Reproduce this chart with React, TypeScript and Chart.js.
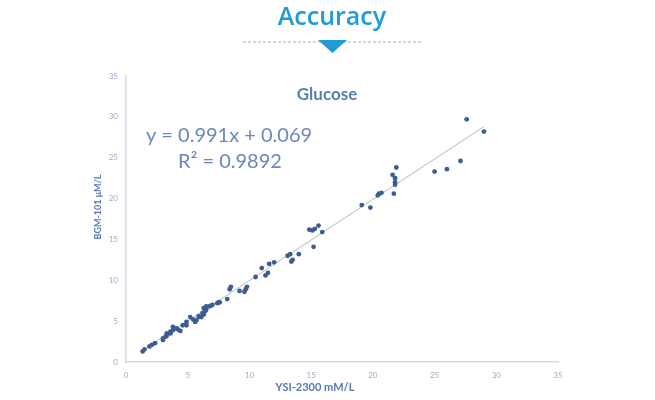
import React, { useEffect, useRef } from "react";
import { Chart, registerables } from "chart.js";

Chart.register(...registerables);

const xValues = [
  1.35, 1.5, 1.9, 2.1, 2.35, 3.0, 3.0, 3.2, 3.3, 3.3, 3.6, 3.6, 3.8, 3.8, 4.1, 4.2, 4.4, 4.6, 4.9, 4.9,
  5.2, 5.45, 5.6, 5.7, 5.9, 5.9, 6.1, 6.2, 6.3, 6.3, 6.4, 6.5, 6.5, 6.75, 6.9, 7.0, 7.4, 7.5, 7.6, 8.2,
  8.4, 8.5, 9.2, 9.6, 9.7, 9.8, 10.5, 11.0, 11.3, 11.5, 11.6, 12.0, 13.1, 13.3, 13.4, 13.5, 14.0, 14.85,
  15.1, 15.2, 15.3, 15.6, 15.9, 19.1, 19.8, 20.4, 20.5, 20.7, 21.6, 21.7, 21.8, 21.8, 21.8, 21.9, 25.0,
  26.0, 27.1, 27.6, 29.0,
];
const yValues = [
  1.3, 1.55, 1.9, 2.1, 2.3, 2.7, 2.9, 3.1, 3.2, 3.5, 3.7, 3.5, 3.9, 4.3, 4.1, 4.0, 3.8, 4.5, 4.9, 4.5,
  5.5, 5.2, 4.9, 5.1, 5.5, 5.6, 5.5, 6.0, 5.8, 6.6, 6.2, 6.4, 6.8, 6.8, 6.9, 7.0, 7.2, 7.3, 7.3, 7.7,
  8.9, 9.2, 8.7, 8.6, 8.9, 9.2, 10.4, 11.5, 10.6, 10.9, 12.0, 12.2, 13.0, 13.2, 12.3, 12.5, 13.2, 16.2,
  16.1, 14.1, 16.3, 16.7, 15.9, 19.2, 18.9, 20.4, 20.6, 20.7, 22.9, 20.6, 22.0, 22.5, 21.7, 23.8, 23.3,
  23.6, 24.6, 29.7, 28.2,
];
const trendSlope = 0.991;
const trendIntercept = 0.069;
const trendXRange = [1.3, 29.0];
const axisTicks = [0, 5, 10, 15, 20, 25, 30, 35];

const headerTitle = "Accuracy";
const chartTitle = "Glucose";
const equationText = "y = 0.991x + 0.069";
const r2Text = "R² = 0.9892";
const xAxisTitle = "YSI-2300 mM/L";
const yAxisTitle = "BGM-101 μM/L";

const textPlugin = {
  id: "textPlugin",
  afterDraw(chart: any) {
    const ctx = chart.ctx as CanvasRenderingContext2D;
    ctx.save();
    // Header
    ctx.fillStyle = "#1f9bd7";
    ctx.font = "600 25px 'Open Sans'";
    ctx.textAlign = "center";
    ctx.textBaseline = "alphabetic";
    ctx.fillText(headerTitle, 332, 25);
    // dashed line
    ctx.strokeStyle = "#9fb3c9";
    ctx.lineWidth = 1;
    ctx.setLineDash([3, 2]);
    ctx.beginPath();
    ctx.moveTo(243, 42);
    ctx.lineTo(422, 42);
    ctx.stroke();
    ctx.setLineDash([]);
    // triangle
    ctx.fillStyle = "#1f9bd7";
    ctx.beginPath();
    ctx.moveTo(318, 40);
    ctx.lineTo(347, 40);
    ctx.lineTo(332.5, 53);
    ctx.closePath();
    ctx.fill();
    // Chart title
    ctx.fillStyle = "#5a7db6";
    ctx.font = "bold 17px Lato";
    ctx.fillText(chartTitle, 327, 100);
    // equation
    ctx.fillStyle = "#6888bf";
    ctx.font = "20px Lato";
    ctx.fillText(equationText, 229, 142);
    ctx.fillText(r2Text, 230, 168);
    // axis titles
    ctx.fillStyle = "#5578b6";
    ctx.font = "bold 11px Lato";
    ctx.textBaseline = "middle";
    ctx.fillText(xAxisTitle, 315, 387);
    ctx.font = "bold 9px Lato";
    ctx.translate(98, 207);
    ctx.rotate(-Math.PI / 2);
    ctx.fillText(yAxisTitle, 0, 0);
    ctx.restore();
  },
};

export default function App() {
  const ref = useRef<HTMLCanvasElement>(null);
  useEffect(() => {
    document.body.style.margin = "0";
    const points = xValues.map((x, i) => ({ x, y: yValues[i] }));
    const trend = trendXRange.map((x) => ({ x, y: trendSlope * x + trendIntercept }));
    const tickFont = { family: "Lato", size: 8 };
    const chart = new Chart(ref.current!, {
      type: "scatter",
      data: {
        datasets: [
          {
            data: points,
            backgroundColor: "#3d5d92",
            borderColor: "#3d5d92",
            pointRadius: 2.4,
            pointBorderWidth: 0,
          },
          {
            type: "line",
            data: trend,
            borderColor: "#b5b8bd",
            borderWidth: 1,
            pointRadius: 0,
            fill: false,
          } as any,
        ],
      },
      options: {
        responsive: false,
        animation: false,
        layout: { padding: { left: 88, top: 76, right: 97, bottom: 8 } },
        plugins: { legend: { display: false }, tooltip: { enabled: false } },
        scales: {
          x: {
            type: "linear",
            min: 0,
            max: 35,
            afterFit: (s: any) => {
              s.height = 30;
            },
            afterBuildTicks: (s: any) => {
              s.ticks = axisTicks.map((v) => ({ value: v }));
            },
            ticks: { color: "#9aabc8", font: tickFont, padding: 9, maxRotation: 0 },
            grid: { display: false, drawTicks: false },
            border: { display: true, color: "#d3d9e4", width: 1.5 },
          },
          y: {
            type: "linear",
            min: 0,
            max: 35,
            afterFit: (s: any) => {
              s.width = 38;
            },
            afterBuildTicks: (s: any) => {
              s.ticks = axisTicks.map((v) => ({ value: v }));
            },
            ticks: { color: "#9aabc8", font: tickFont, padding: 8 },
            grid: { display: false, drawTicks: false },
            border: { display: true, color: "#d3d9e4", width: 1.5 },
          },
        },
      },
      plugins: [textPlugin],
    });
    return () => chart.destroy();
  }, []);
  return (
    <div style={{ position: "fixed", left: 0, top: 0, width: 655, height: 400, background: "#fff" }}>
      <canvas ref={ref} width={655} height={400} />
    </div>
  );
}
